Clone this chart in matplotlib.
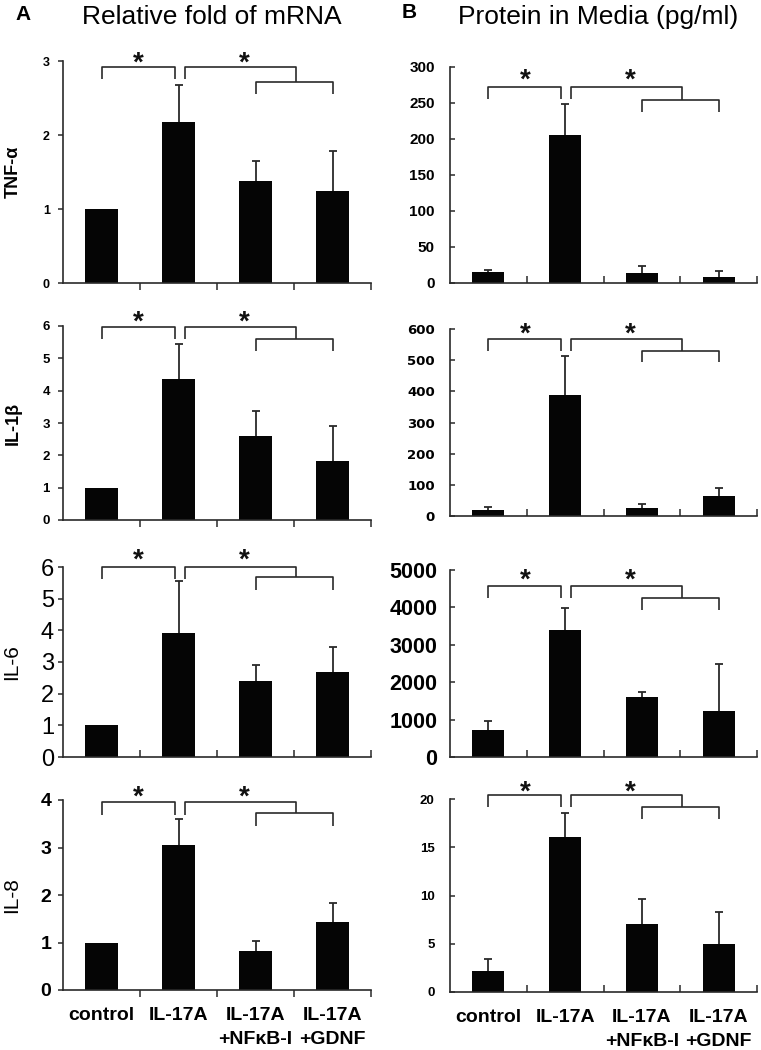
import numpy as np
import matplotlib
matplotlib.use("Agg")
import matplotlib.pyplot as plt
from matplotlib import font_manager
from matplotlib.transforms import blended_transform_factory

nan = np.nan
categories = ["control", "IL-17A", "IL-17A\n+NF\u03baB-I", "IL-17A\n+GDNF"]

# Panel A: relative fold of mRNA
mrna_tnf = [1.0, 2.17, 1.38, 1.25]
mrna_tnf_err = [nan, 0.51, 0.27, 0.54]
mrna_il1b = [1.0, 4.37, 2.60, 1.83]
mrna_il1b_err = [nan, 1.08, 0.78, 1.08]
mrna_il6 = [1.0, 3.93, 2.41, 2.69]
mrna_il6_err = [nan, 1.62, 0.48, 0.79]
mrna_il8 = [1.0, 3.05, 0.82, 1.43]
mrna_il8_err = [nan, 0.54, 0.21, 0.41]

# Panel B: protein in media (pg/ml)
prot_tnf = [15, 205, 13.5, 8]
prot_tnf_err = [3, 43, 10, 9]
prot_il1b = [19, 387, 26, 63]
prot_il1b_err = [11, 125, 11, 26]
prot_il6 = [733, 3405, 1614, 1243]
prot_il6_err = [227, 571, 114, 1236]
prot_il8 = [2.13, 16.06, 7.08, 5.0]
prot_il8_err = [1.32, 2.54, 2.56, 3.32]

row_labels = ["TNF-\u03b1", "IL-1\u03b2", "IL-6", "IL-8"]
a_ticks = [np.arange(0, 4, 1), np.arange(0, 7, 1), np.arange(0, 7, 1), np.arange(0, 5, 1)]
b_ticks = [np.arange(0, 301, 50), np.arange(0, 601, 100), np.arange(0, 5001, 1000), np.arange(0, 21, 5)]

names = {f.name for f in font_manager.fontManager.ttflist}
SANS = "Liberation Sans" if "Liberation Sans" in names else "DejaVu Sans"
NARROW = "Liberation Sans Narrow" if "Liberation Sans Narrow" in names else SANS
plt.rcParams["font.family"] = [SANS, "DejaVu Sans"]

W, H = 761, 1050
fig = plt.figure(figsize=(W / 100, H / 100), dpi=100)


def add_axes(x0, x1, y0, y1):
    return fig.add_axes([x0 / W, 1 - y1 / H, (x1 - x0) / W, (y1 - y0) / H])


a_rows = [(61, 283), (326, 520), (567, 757), (800, 990)]
b_rows = [(67, 283), (329, 516), (570, 757), (799, 992)]

# per-panel bracket layout (axes fraction): upper, lower, drop, asterisk
a_br = [(0.973, 0.905, 0.055, 1.03), (0.995, 0.933, 0.063, 1.065),
        (1.0, 0.945, 0.065, 1.08), (0.988, 0.93, 0.065, 1.06)]
b_br = [(0.906, 0.847, 0.055, 0.978), (0.945, 0.884, 0.063, 1.02),
        (0.916, 0.852, 0.066, 0.993), (1.02, 0.96, 0.062, 1.08)]

a_tickfont = [dict(size=9, weight="bold", family=SANS),
              dict(size=9.5, weight="bold", family=SANS),
              dict(size=17, weight="normal", family=NARROW),
              dict(size=14, weight="bold", family=NARROW)]
b_tickfont = [dict(size=11, weight="bold", family=SANS),
              dict(size=9.5, weight="bold", family="DejaVu Sans"),
              dict(size=15.5, weight="bold", family=SANS),
              dict(size=9.5, weight="bold", family=SANS)]
a_xdir = ["out", "out", "in", "out"]
a_ypad = [6, 6, 3, 5]
b_ypad = [11, 11, 9, 11]

a_vals = [mrna_tnf, mrna_il1b, mrna_il6, mrna_il8]
a_errs = [mrna_tnf_err, mrna_il1b_err, mrna_il6_err, mrna_il8_err]
b_vals = [prot_tnf, prot_il1b, prot_il6, prot_il8]
b_errs = [prot_tnf_err, prot_il1b_err, prot_il6_err, prot_il8_err]

x = np.arange(len(categories))
LC = "#2a2a2a"


def bars(ax, vals, errs, width):
    ax.bar(x, vals, width=width, color="#050505", zorder=2)
    _, caps, _ = ax.errorbar(x, vals, yerr=[np.zeros(len(vals)), errs], fmt="none",
                             ecolor=LC, elinewidth=1.3, capsize=3, capthick=1.3, zorder=1)
    for c in caps:
        if np.allclose(np.asarray(c.get_ydata(), float), np.asarray(vals, float)):
            c.set_visible(False)


def draw_brackets(ax, br):
    up, low, drop, ast = br
    tr = blended_transform_factory(ax.transData, ax.transAxes)
    kw = dict(color=LC, lw=1.2, transform=tr, clip_on=False, solid_capstyle="butt")
    ax.plot([0, 0, 0.95, 0.95], [up - drop, up, up, up - drop], **kw)
    ax.plot([1.08, 1.08, 2.52, 2.52], [up - drop, up, up, low], **kw)
    ax.plot([2.0, 2.0, 3.0, 3.0], [low - drop, low, low, low - drop], **kw)
    for xs in (0.48, 1.85):
        ax.annotate("*", xy=(xs, ast), xycoords=tr, xytext=(0, -11.5),
                    textcoords="offset points", ha="center", va="baseline",
                    fontsize=20, fontweight="bold", color="#111", annotation_clip=False)


def style(ax, ticks, font, xdir, ydir, ypad, last):
    ax.set_xlim(-0.5, 3.5)
    ax.set_ylim(ticks[0], ticks[-1])
    ax.set_yticks(ticks)
    ax.set_yticklabels([str(t) for t in ticks], fontdict=font)
    ax.set_xticks([0.5, 1.5, 2.5, 3.5])
    ax.set_xticklabels([])
    ax.tick_params(axis="x", which="major", direction=xdir, length=5, width=1.1, color=LC)
    ax.tick_params(axis="y", direction=ydir, length=3.5, width=1.1, color=LC, pad=ypad)
    if last:
        ax.set_xticks(x, categories, minor=True)
        ax.tick_params(axis="x", which="minor", length=0, pad=12)
        for lab in ax.get_xticklabels(minor=True):
            lab.set_fontsize(14)
            lab.set_fontweight("bold")
            lab.set_linespacing(1.6)
            lab.set_verticalalignment("top")
    for s in ("top", "right"):
        ax.spines[s].set_visible(False)
    for s in ("left", "bottom"):
        ax.spines[s].set_linewidth(1.2)
        ax.spines[s].set_color(LC)


for i in range(4):
    ax = add_axes(63, 371, *a_rows[i])
    bars(ax, a_vals[i], a_errs[i], 0.43)
    style(ax, a_ticks[i], a_tickfont[i], a_xdir[i], "out", a_ypad[i], i == 3)
    draw_brackets(ax, a_br[i])
    bold = i < 2
    ax.set_ylabel(row_labels[i], fontsize=13 if bold else 15,
                  fontweight="bold" if bold else "normal",
                  family=SANS if bold else NARROW)
    ax.yaxis.set_label_coords(-0.135, 0.5)

    bx = add_axes(450, 757, *b_rows[i])
    bars(bx, b_vals[i], b_errs[i], 0.42)
    style(bx, b_ticks[i], b_tickfont[i], "in", "in", b_ypad[i], i == 3)
    draw_brackets(bx, b_br[i])

fig.text(23 / W, 1 - 14 / H, "A", fontsize=15, fontweight="bold", ha="center", va="center")
fig.text(212 / W, 1 - 17 / H, "Relative fold of mRNA", fontsize=19, ha="center", va="center")
fig.text(409 / W, 1 - 13 / H, "B", fontsize=15, fontweight="bold", ha="center", va="center")
fig.text(598 / W, 1 - 17 / H, "Protein in Media (pg/ml)", fontsize=19, ha="center", va="center")

fig.savefig("out.png", dpi=100)
